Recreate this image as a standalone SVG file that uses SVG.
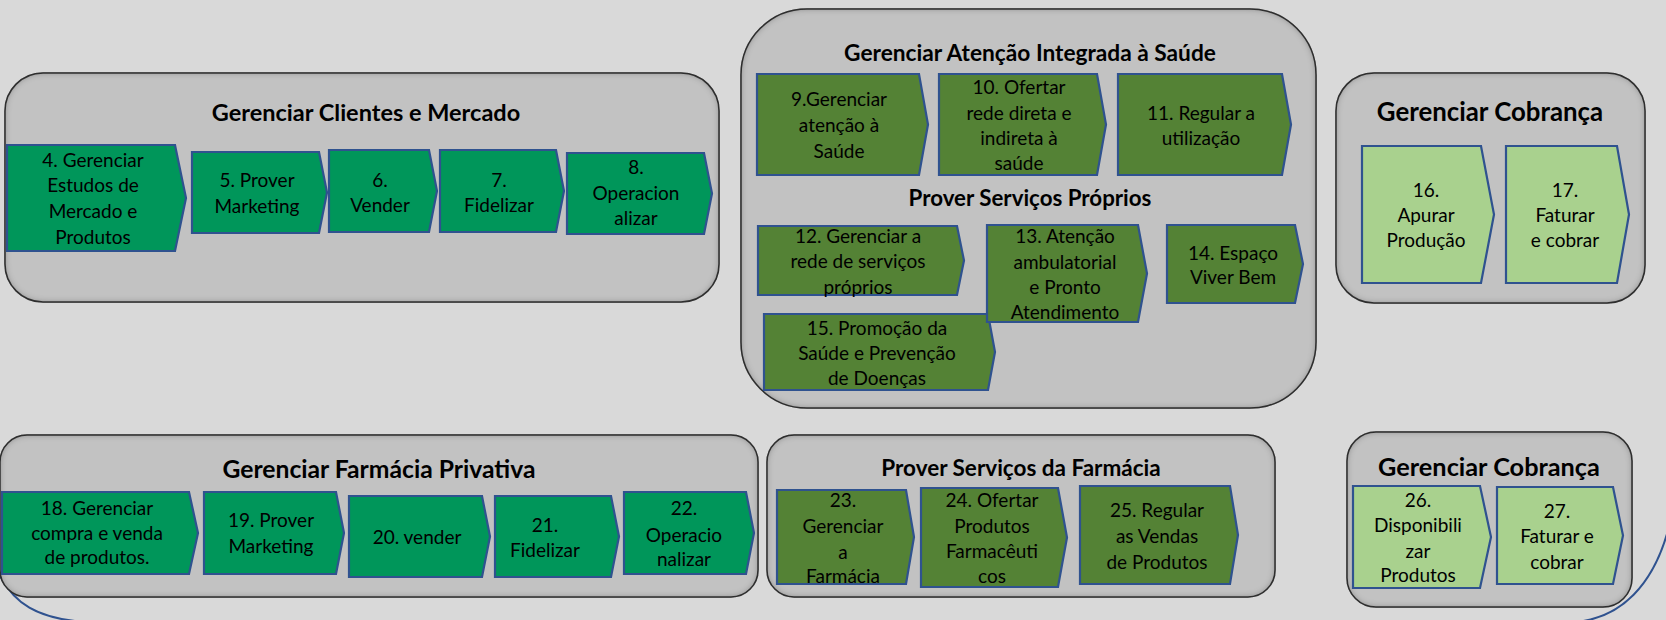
<svg xmlns="http://www.w3.org/2000/svg" width="1666" height="620" viewBox="0 0 1666 620">
<defs>
<style>
.grp{fill:#c2c2c2;stroke:#3a3a3a;stroke-width:1.5;filter:url(#inner)}
.n{stroke:#2F528F;stroke-width:2.2}
.g1{fill:#00965A}
.g2{fill:#548235}
.g3{fill:#A9D18E}
.t{font-family:Lato,"Open Sans","Liberation Sans",sans-serif;font-size:19px;fill:#000;text-anchor:middle}
.h{font-family:Lato,"Open Sans","Liberation Sans",sans-serif;font-size:21px;font-weight:bold;fill:#000;text-anchor:middle}
</style>
<filter id="inner" x="-5%" y="-10%" width="110%" height="120%">
<feFlood flood-color="#000" flood-opacity="0.75" result="f"/>
<feComposite in="f" in2="SourceAlpha" operator="out" result="o"/>
<feGaussianBlur in="o" stdDeviation="3.5" result="b"/>
<feComposite in="b" in2="SourceAlpha" operator="in" result="s"/>
<feMerge><feMergeNode in="SourceGraphic"/><feMergeNode in="s"/></feMerge>
</filter>
</defs>
<rect width="1666" height="620" fill="#d9d9d9"/>
<path id="frame" d="M -1 574 C 14 604 38 618 80 621.5 L 1580 621.5 C 1622 616 1652 585 1667 534" fill="none" stroke="#2F528F" stroke-width="2"/>

<g id="grp-clientes">
<rect class="grp" x="5" y="73" width="714" height="229" rx="38"/>
<text class="h" x="366" y="121" style="font-size:23.5px">Gerenciar Clientes e Mercado</text>
</g>
<g id="n4"><polygon class="n g1" points="7,145 175,145 186,198 175,251 7,251"/>
<text class="t" x="93"><tspan x="93" y="167">4. Gerenciar</tspan><tspan x="93" y="192">Estudos de</tspan><tspan x="93" y="218">Mercado e</tspan><tspan x="93" y="244">Produtos</tspan></text></g>
<g id="n5"><polygon class="n g1" points="192,152 319,152 327,192.5 319,233 192,233"/>
<text class="t"><tspan x="257" y="187">5. Prover</tspan><tspan x="257" y="213">Marketing</tspan></text></g>
<g id="n6"><polygon class="n g1" points="329,150 429,150 437,191 429,232 329,232"/>
<text class="t"><tspan x="380" y="187">6.</tspan><tspan x="380" y="212">Vender</tspan></text></g>
<g id="n7"><polygon class="n g1" points="440,150 556,150 564,191 556,232 440,232"/>
<text class="t"><tspan x="499" y="187">7.</tspan><tspan x="499" y="212">Fidelizar</tspan></text></g>
<g id="n8"><polygon class="n g1" points="567,153 704,153 712,193.5 704,234 567,234"/>
<text class="t"><tspan x="636" y="174">8.</tspan><tspan x="636" y="200">Operacion</tspan><tspan x="636" y="225">alizar</tspan></text></g>

<g id="grp-atencao">
<rect class="grp" x="741" y="9" width="575" height="399" rx="66"/>
<text class="h" x="1030" y="61" style="font-size:22.7px">Gerenciar Atenção Integrada à Saúde</text>
<text class="h" x="1030" y="206" style="font-size:22.3px">Prover Serviços Próprios</text>
</g>
<g id="n9"><polygon class="n g2" points="757,74 919,74 928,124.5 919,175 757,175"/>
<text class="t"><tspan x="839" y="106">9.Gerenciar</tspan><tspan x="839" y="132">atenção à</tspan><tspan x="839" y="158">Saúde</tspan></text></g>
<g id="n10"><polygon class="n g2" points="939,74 1097,74 1106,124.5 1097,175 939,175"/>
<text class="t"><tspan x="1019" y="94">10. Ofertar</tspan><tspan x="1019" y="120">rede direta e</tspan><tspan x="1019" y="145">indireta à</tspan><tspan x="1019" y="170">saúde</tspan></text></g>
<g id="n11"><polygon class="n g2" points="1118,74 1282,74 1291,124.5 1282,175 1118,175"/>
<text class="t"><tspan x="1201" y="120">11. Regular a</tspan><tspan x="1201" y="145">utilização</tspan></text></g>
<g id="n12"><polygon class="n g2" points="758,226 957,226 964,260.5 957,295 758,295"/>
<text class="t"><tspan x="858" y="243">12. Gerenciar a</tspan><tspan x="858" y="268">rede de serviços</tspan><tspan x="858" y="294">próprios</tspan></text></g>
<g id="n15"><polygon class="n g2" points="764,314 988,314 995,352 988,390 764,390"/>
<text class="t"><tspan x="877" y="335">15. Promoção da</tspan><tspan x="877" y="360">Saúde e Prevenção</tspan><tspan x="877" y="385">de Doenças</tspan></text></g>
<g id="n13"><polygon class="n g2" points="987,225 1138,225 1147,273.5 1138,322 987,322"/>
<text class="t"><tspan x="1065" y="243">13. Atenção</tspan><tspan x="1065" y="269">ambulatorial</tspan><tspan x="1065" y="294">e Pronto</tspan><tspan x="1065" y="319">Atendimento</tspan></text></g>
<g id="n14"><polygon class="n g2" points="1167,225 1295,225 1303,264 1295,303 1167,303"/>
<text class="t"><tspan x="1233" y="260">14. Espaço</tspan><tspan x="1233" y="284">Viver Bem</tspan></text></g>

<g id="grp-cobranca1">
<rect class="grp" x="1336" y="73" width="309" height="230" rx="38"/>
<text class="h" x="1490" y="121" style="font-size:25.8px">Gerenciar Cobrança</text>
</g>
<g id="n16"><polygon class="n g3" points="1362,146 1481,146 1494,214.5 1481,283 1362,283"/>
<text class="t"><tspan x="1426" y="197">16.</tspan><tspan x="1426" y="222">Apurar</tspan><tspan x="1426" y="247">Produção</tspan></text></g>
<g id="n17"><polygon class="n g3" points="1506,146 1617,146 1629,214.5 1617,283 1506,283"/>
<text class="t"><tspan x="1565" y="197">17.</tspan><tspan x="1565" y="222">Faturar</tspan><tspan x="1565" y="247">e cobrar</tspan></text></g>

<g id="grp-farmacia">
<rect class="grp" x="0" y="435" width="758" height="162" rx="27"/>
<text class="h" x="379" y="478" style="font-size:24.7px">Gerenciar Farmácia Privativa</text>
</g>
<g id="n18"><polygon class="n g1" points="2,492 189,492 198,533 189,574 2,574"/>
<text class="t"><tspan x="97" y="515">18. Gerenciar</tspan><tspan x="97" y="540">compra e venda</tspan><tspan x="97" y="564">de produtos.</tspan></text></g>
<g id="n19"><polygon class="n g1" points="204,492 336,492 344,533 336,574 204,574"/>
<text class="t"><tspan x="271" y="527">19. Prover</tspan><tspan x="271" y="553">Marketing</tspan></text></g>
<g id="n20"><polygon class="n g1" points="349,496 482,496 490,536.5 482,577 349,577"/>
<text class="t"><tspan x="417" y="544">20. vender</tspan></text></g>
<g id="n21"><polygon class="n g1" points="495,496 611,496 619,536.5 611,577 495,577"/>
<text class="t"><tspan x="545" y="532">21.</tspan><tspan x="545" y="557">Fidelizar</tspan></text></g>
<g id="n22"><polygon class="n g1" points="624,492 746,492 754,533 746,574 624,574"/>
<text class="t"><tspan x="684" y="515">22.</tspan><tspan x="684" y="542">Operacio</tspan><tspan x="684" y="566">nalizar</tspan></text></g>

<g id="grp-servicos-farmacia">
<rect class="grp" x="767" y="435" width="508" height="162" rx="27"/>
<text class="h" x="1021" y="476" style="font-size:22.5px">Prover Serviços da Farmácia</text>
</g>
<g id="n23"><polygon class="n g2" points="777,490 906,490 914,537 906,584 777,584"/>
<text class="t"><tspan x="843" y="507">23.</tspan><tspan x="843" y="533">Gerenciar</tspan><tspan x="843" y="559">a</tspan><tspan x="843" y="583">Farmácia</tspan></text></g>
<g id="n24"><polygon class="n g2" points="921,488 1058,488 1067,537.5 1058,587 921,587"/>
<text class="t"><tspan x="992" y="507">24. Ofertar</tspan><tspan x="992" y="533">Produtos</tspan><tspan x="992" y="558">Farmacêuti</tspan><tspan x="992" y="583">cos</tspan></text></g>
<g id="n25"><polygon class="n g2" points="1080,486 1230,486 1238,535 1230,584 1080,584"/>
<text class="t"><tspan x="1157" y="517">25. Regular</tspan><tspan x="1157" y="543">as Vendas</tspan><tspan x="1157" y="569">de Produtos</tspan></text></g>

<g id="grp-cobranca2">
<rect class="grp" x="1347" y="432" width="285" height="175" rx="29"/>
<text class="h" x="1489" y="476" style="font-size:25.3px">Gerenciar Cobrança</text>
</g>
<g id="n26"><polygon class="n g3" points="1353,486 1480,486 1491,537 1480,588 1353,588"/>
<text class="t"><tspan x="1418" y="507">26.</tspan><tspan x="1418" y="532">Disponibili</tspan><tspan x="1418" y="558">zar</tspan><tspan x="1418" y="582">Produtos</tspan></text></g>
<g id="n27"><polygon class="n g3" points="1497,487 1613,487 1623,535.5 1613,584 1497,584"/>
<text class="t"><tspan x="1557" y="518">27.</tspan><tspan x="1557" y="543">Faturar e</tspan><tspan x="1557" y="569">cobrar</tspan></text></g>
<g id="connectors"/>
</svg>
